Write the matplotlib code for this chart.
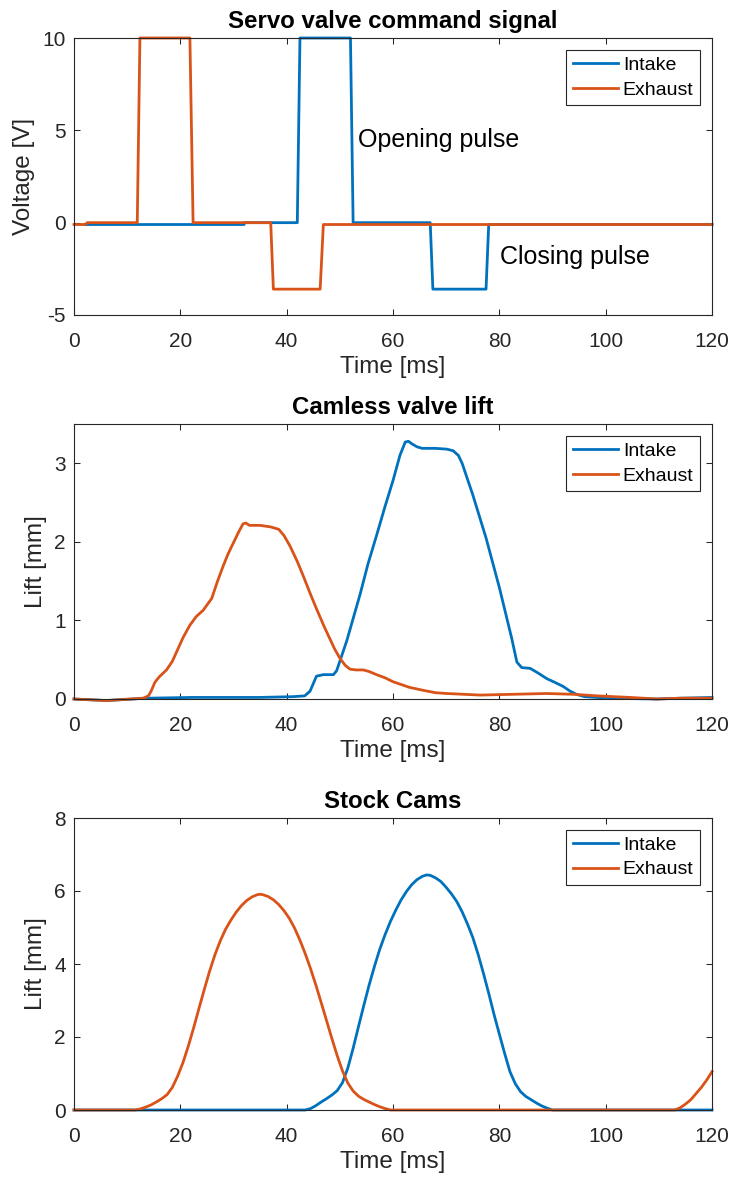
import matplotlib
matplotlib.use("Agg")
import matplotlib.pyplot as plt

plt.rcParams['font.family'] = ['Liberation Sans', 'DejaVu Sans']
plt.rcParams['axes.unicode_minus'] = False

BLUE = '#0072BD'
ORANGE = '#D95319'
AXC = '#262626'

# --- Servo valve command signal (ms, V) ---
cmd_intake_t = [2, 32, 32, 42, 42.5, 52, 52.5, 67, 67.5, 77.5, 78, 120]
cmd_intake_v = [-0.1, -0.1, 0, 0, 10, 10, 0, 0, -3.6, -3.6, -0.1, -0.1]
cmd_exhaust_t = [0, 2.1, 2.5, 11.9, 12.4, 21.8, 22.4, 37.0, 37.5, 46.3, 46.9, 120]
cmd_exhaust_v = [-0.1, -0.1, 0, 0, 10, 10, 0, 0, -3.6, -3.6, -0.1, -0.1]

# --- Camless valve lift (ms, mm) ---
camless_intake_t = [0, 6.1, 13.5, 22.4, 35.0, 41.3, 43.4, 44.4, 45.6, 46.9, 48.8, 49.4,
                    51.3, 53.8, 55.3, 56.9, 58.5, 60.0, 61.3, 62.3, 62.9, 63.5, 64.5,
                    65.5, 66.3, 68.0, 70.1, 71.3, 72.3, 73.0, 73.9, 75.0, 77.5, 80.0,
                    82.3, 83.3, 84.2, 85.8, 87.3, 88.9, 90.5, 92.0, 93.3, 94.5, 96.0,
                    98.3, 101.2, 109.6, 114.0, 120.0]
camless_intake_l = [0.0, -0.02, 0.01, 0.02, 0.02, 0.03, 0.04, 0.10, 0.29, 0.31, 0.31, 0.36,
                    0.74, 1.33, 1.72, 2.08, 2.45, 2.78, 3.10, 3.27, 3.28, 3.25, 3.21,
                    3.19, 3.19, 3.19, 3.18, 3.16, 3.10, 3.00, 2.82, 2.60, 2.05, 1.42,
                    0.78, 0.47, 0.40, 0.39, 0.33, 0.26, 0.21, 0.16, 0.10, 0.06, 0.03,
                    0.02, 0.01, 0.0, 0.01, 0.02]
camless_exhaust_t = [0, 6.1, 13.0, 14.0, 14.5, 15.2, 16.0, 17.4, 18.5, 19.3, 20.5, 21.8,
                     23.0, 24.3, 25.9, 27.0, 28.1, 29.0, 30.0, 31.0, 31.8, 32.3, 33.0,
                     35.0, 37.0, 38.5, 39.5, 40.6, 42.0, 43.1, 44.5, 45.6, 47.0, 48.1,
                     49.0, 50.0, 51.0, 51.9, 53.0, 54.4, 55.5, 56.9, 58.5, 60.0, 61.3,
                     63.0, 65.7, 68.0, 70.1, 76.4, 82.6, 88.9, 93.9, 98.3, 104.6, 109.6,
                     114.0, 120.0]
camless_exhaust_l = [0.0, -0.02, 0.01, 0.04, 0.10, 0.21, 0.28, 0.37, 0.48, 0.60, 0.78, 0.94,
                     1.05, 1.13, 1.28, 1.50, 1.70, 1.85, 1.99, 2.13, 2.23, 2.24, 2.21,
                     2.21, 2.19, 2.16, 2.08, 1.95, 1.75, 1.57, 1.33, 1.15, 0.93, 0.77,
                     0.64, 0.52, 0.43, 0.38, 0.37, 0.37, 0.35, 0.31, 0.27, 0.22, 0.19,
                     0.15, 0.11, 0.08, 0.07, 0.05, 0.06, 0.07, 0.06, 0.04, 0.02, 0.00,
                     0.01, 0.01]

# --- Stock cams (ms, mm) ---
stock_intake_t = [0, 43.5, 44.5, 45.5, 46.5, 47.5, 48.5, 49.5, 50.5, 51.5, 52.5, 53.5,
                  54.5, 55.5, 56.5, 57.5, 58.5, 59.5, 60.5, 61.5, 62.5, 63.5, 64.5,
                  65.5, 66.3, 67.0, 68.0, 69.0, 70.0, 71.0, 72.0, 73.0, 74.0, 75.0,
                  76.0, 77.0, 78.0, 79.0, 80.0, 81.0, 82.0, 83.0, 84.0, 85.0, 86.0,
                  87.0, 88.0, 89.0, 90.0, 120]
stock_intake_l = [0, 0, 0.04, 0.12, 0.22, 0.31, 0.41, 0.53, 0.75, 1.15, 1.69, 2.28,
                  2.86, 3.42, 3.93, 4.40, 4.80, 5.16, 5.47, 5.75, 5.98, 6.17, 6.31,
                  6.40, 6.44, 6.43, 6.36, 6.26, 6.10, 5.92, 5.71, 5.43, 5.10, 4.73,
                  4.27, 3.75, 3.20, 2.62, 2.08, 1.55, 1.05, 0.72, 0.50, 0.37, 0.28,
                  0.19, 0.11, 0.05, 0.0, 0]
stock_exhaust_t = [0, 11.5, 12.5, 13.5, 14.5, 15.5, 16.5, 17.5, 18.5, 19.5, 20.5, 21.5,
                   22.5, 23.5, 24.5, 25.5, 26.5, 27.5, 28.5, 29.5, 30.5, 31.5, 32.5,
                   33.5, 34.5, 35.0, 35.5, 36.5, 37.5, 38.5, 39.5, 40.5, 41.5, 42.5,
                   43.5, 44.5, 45.5, 46.5, 47.5, 48.5, 49.5, 50.5, 51.5, 52.5, 53.5,
                   54.5, 55.5, 56.5, 57.5, 58.5, 59.5, 113.0, 114.0, 115.0, 116.0,
                   117.0, 118.0, 119.0, 120.0]
stock_exhaust_l = [0, 0, 0.03, 0.08, 0.14, 0.22, 0.31, 0.42, 0.62, 0.93, 1.30, 1.75,
                   2.25, 2.78, 3.30, 3.80, 4.25, 4.63, 4.95, 5.20, 5.42, 5.60, 5.74,
                   5.84, 5.90, 5.91, 5.90, 5.85, 5.76, 5.63, 5.46, 5.25, 4.98, 4.65,
                   4.28, 3.87, 3.42, 2.94, 2.45, 1.96, 1.49, 1.07, 0.74, 0.52, 0.38,
                   0.29, 0.22, 0.15, 0.09, 0.04, 0.0, 0.0, 0.06, 0.16, 0.28,
                   0.45, 0.62, 0.82, 1.05]

xticks = [0, 20, 40, 60, 80, 100, 120]
labels = ['Intake', 'Exhaust']

W, H = 733, 1182
fig = plt.figure(figsize=(W / 100, H / 100), dpi=100)

def frac(top, bottom, left=74, right=712):
    return [left / W, 1 - bottom / H, (right - left) / W, (bottom - top) / H]

def style(ax, title, ylabel, ylim, yticks):
    ax.set_xlim(0, 120)
    ax.set_ylim(*ylim)
    ax.set_xticks(xticks)
    ax.set_yticks(yticks)
    ax.set_title(title, fontsize=17.3, fontweight='bold', color='black', pad=7)
    ax.set_xlabel('Time [ms]', fontsize=17.5, color=AXC, labelpad=4)
    ax.set_ylabel(ylabel, fontsize=17.5, color=AXC, labelpad=5)
    ax.tick_params(direction='in', length=4.5, width=0.75, colors=AXC,
                   labelsize=15, top=True, right=True)
    ax.tick_params(axis='x', pad=12)
    ax.tick_params(axis='y', pad=6)
    for s in ax.spines.values():
        s.set_color(AXC)
        s.set_linewidth(0.8)
    leg = ax.legend(labels, loc='upper right', fontsize=14, frameon=True, fancybox=False,
                    edgecolor=AXC, framealpha=1, handlelength=2.3, handletextpad=0.25,
                    borderpad=0.35, labelspacing=0.35, borderaxespad=0.6)
    leg.get_frame().set_linewidth(0.8)

lw = 2.0

ax1 = fig.add_axes(frac(38, 315))
ax1.plot(cmd_intake_t, cmd_intake_v, color=BLUE, lw=lw, clip_on=False)
ax1.plot(cmd_exhaust_t, cmd_exhaust_v, color=ORANGE, lw=lw, clip_on=False)
style(ax1, 'Servo valve command signal', 'Voltage [V]', (-5, 10), [-5, 0, 5, 10])
ax1.text(53.5, 4.48, 'Opening pulse', fontsize=18, va='center', ha='left', color='black')
ax1.text(80.1, -1.87, 'Closing pulse', fontsize=18, va='center', ha='left', color='black')

ax2 = fig.add_axes(frac(424, 699))
ax2.plot(camless_intake_t, camless_intake_l, color=BLUE, lw=lw, clip_on=False)
ax2.plot(camless_exhaust_t, camless_exhaust_l, color=ORANGE, lw=lw, clip_on=False)
style(ax2, 'Camless valve lift', 'Lift [mm]', (0, 3.5), [0, 1, 2, 3])

ax3 = fig.add_axes(frac(818, 1110))
ax3.plot(stock_intake_t, stock_intake_l, color=BLUE, lw=lw, clip_on=False)
ax3.plot(stock_exhaust_t, stock_exhaust_l, color=ORANGE, lw=lw, clip_on=False)
style(ax3, 'Stock Cams', 'Lift [mm]', (0, 8), [0, 2, 4, 6, 8])

fig.savefig('out.png', dpi=100)
